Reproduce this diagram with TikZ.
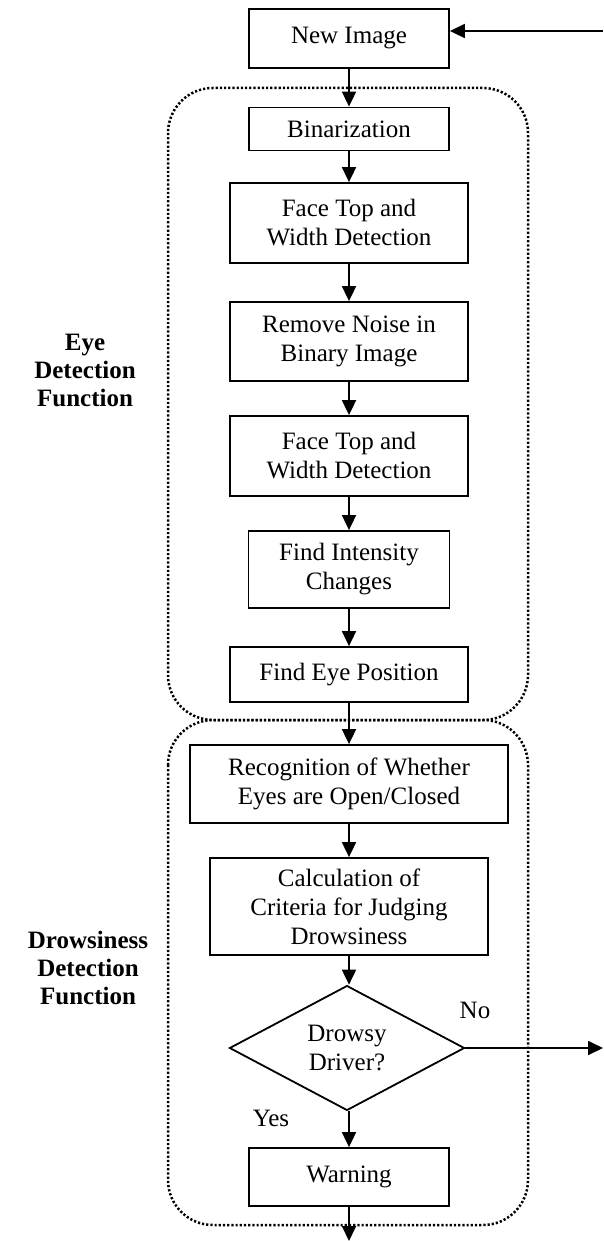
\documentclass[tikz,border=0pt]{standalone}
\usepackage{fontspec}
\setmainfont{Liberation Serif}
\usetikzlibrary{arrows.meta,shapes.geometric}

\begin{document}
\begin{tikzpicture}[x=1pt,y=1pt,
        font=\fontsize{25}{29}\selectfont,
        box/.style={draw,line width=1.8pt,align=center,inner sep=2pt},
        decision/.style={draw,diamond,line width=1.8pt,align=center,inner sep=0pt},
        group/.style={line width=2.5pt,dash pattern=on 2.2pt off 2pt,rounded corners=45pt},
        flow/.style={line width=1.8pt,-{Triangle[length=15pt,width=14pt]}},
        side/.style={font=\fontsize{25}{28}\selectfont\bfseries,align=center}]
        \useasboundingbox (0,0) rectangle (603,-1241);

        % dotted function groups
        \draw[group] (168,-88) rectangle (528,-720);
        \draw[group] (168,-720) rectangle (528,-1225);

        \node[side] (eyelbl) at (85,-370) {Eye\\Detection\\Function};
        \node[side] (drowlbl) at (88,-968) {Drowsiness\\Detection\\Function};

        \node[box,minimum width=200pt,minimum height=59pt] (newimg) at (349,-38.5) {New Image};
        \node[box,minimum width=200pt,minimum height=43pt] (binar) at (349,-129) {Binarization};
        \node[box,minimum width=238pt,minimum height=80pt] (face1) at (349,-223) {Face Top and\\Width Detection};
        \node[box,minimum width=238pt,minimum height=79pt] (noise) at (349,-341.5) {Remove Noise in\\Binary Image};
        \node[box,minimum width=238pt,minimum height=80pt] (face2) at (349,-456) {Face Top and\\Width Detection};
        \node[box,minimum width=201pt,minimum height=77pt] (intens) at (349,-569.5) {Find Intensity\\Changes};
        \node[box,minimum width=238pt,minimum height=55pt] (eyepos) at (349,-674.5) {Find Eye Position};
        \node[box,minimum width=318pt,minimum height=78pt] (recog) at (349,-784) {Recognition of Whether\\Eyes are Open/Closed};
        \node[box,minimum width=278pt,minimum height=97pt] (crit) at (349,-906.5) {Calculation of\\Criteria for Judging\\Drowsiness};
        \node[decision,minimum width=235pt,minimum height=120pt] (drowsy) at (347,-1048) {Drowsy\\Driver?};
        \node[box,minimum width=200pt,minimum height=58pt] (warn) at (349,-1177) {Warning};

        \node (nolbl) at (475,-1010) {No};
        \node (yeslbl) at (271,-1118) {Yes};

        \coordinate (loopin) at (603,-31);
        \coordinate (noout) at (603,-1048);
        \coordinate (endout) at (349,-1241);

        \draw[flow] (loopin) -- (newimg.east |- loopin);
        \draw[flow] (newimg) -- (binar);
        \draw[flow] (binar) -- (face1);
        \draw[flow] (face1) -- (noise);
        \draw[flow] (noise) -- (face2);
        \draw[flow] (face2) -- (intens);
        \draw[flow] (intens) -- (eyepos);
        \draw[flow] (eyepos) -- (recog);
        \draw[flow] (recog) -- (crit);
        \draw[flow] (crit.south) -- (drowsy.north -| crit.south);
        \draw[flow] (drowsy.east) -- (noout);
        \draw[flow] (drowsy.south -| warn.north) -- (warn);
        \draw[flow] (warn) -- (endout);
    \end{tikzpicture}
\end{document}
